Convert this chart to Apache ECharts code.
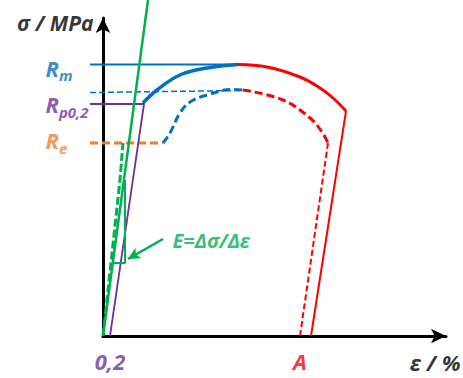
<!DOCTYPE html>
<html>
<head>
<meta charset="utf-8">
<script src="https://cdn.jsdelivr.net/npm/echarts@6/dist/echarts.min.js"></script>
<style>
  html, body { margin: 0; padding: 0; background: #fff; }
  #chart { width: 463px; height: 378px; }
</style>
</head>
<body>
<div id="chart"></div>
<script>
// schematic stress-strain diagram, x = strain (arbitrary %), y = stress (MPa, schematic)
const Rm = 543
const Rp02 = 464
const Re = 386
const epsP = 0.7 // plastic offset "0,2"
const epsA = 19.7 // elongation at fracture A

const elasticLine = [[0, 0], [4.5, 672]]
const elasticDashed = [[0, 0], [1.7, 312], [2.0, Re]]
const reLevel = [[-1.3, Re], [6.0, Re]]
const offsetLine = [[-1.3, Rp02], [4.1, Rp02], [epsP, 0]]
const rmLevel = [[-1.3, Rm], [13.5, Rm]]
const hardening = [[4.0, 466], [5.4, 492], [7.7, 522], [10.4, 536], [13.5, Rm]]
const upperDashLevel = [[-1.3, 487], [14.0, 491]]
const hardeningDashed = [[6.0, Re], [6.7, 406], [7.7, 446], [8.7, 468], [10.4, 482], [13.0, 493], [14.0, 492]]
const neckingArc = [[13.5, Rm], [16.4, 538], [19.7, 518], [21.7, 496], [23.0, 476], [24.3, 450]]
const fractureLine = [[24.3, 450], [20.8, 0]]
const neckingDashed = [[14.0, 492], [18.0, 472], [20.7, 436], [21.9, 408], [22.5, Re]]
const unloadDashed = [[22.5, Re], [epsA, 0]]
const slopeTriangle = [[0.95, 146], [2.2, 146], [2.2, 312]]
const slopeArrow = [[6.0, 194], [2.5, 154]]

const BLUE = '#0070C0'
const PURPLE = '#7030A0'
const ORANGE = '#ED7D31'
const GREEN = '#00B050'
const RED = '#FF0000'
const FONT = '"Open Sans", sans-serif'

function line(data, color, width, type, smooth) {
  return {
    type: 'line',
    data,
    smooth: smooth || false,
    symbol: 'none',
    clip: false,
    silent: true,
    lineStyle: { color, width, type: type || 'solid', cap: 'butt' }
  }
}

function bigText(color, size) {
  return { color, fontSize: size, fontWeight: 'bold', fontStyle: 'italic', fontFamily: FONT }
}

function rLabel(sub, color) {
  return {
    formatter: '{r|R}{s|' + sub + '}',
    rich: {
      r: Object.assign(bigText(color, 22), { lineHeight: 30 }),
      s: Object.assign(bigText(color, 15), { lineHeight: 14, verticalAlign: 'bottom' })
    }
  }
}

const labelItems = [
  { value: [-0.9, 626], label: { position: 'left', formatter: 'σ / MPa', ...bigText('#000', 21) } },
  { value: [35.8, -52], label: { position: 'left', formatter: 'ε / %', ...bigText('#000', 22) } },
  { value: [-5.8, Rm], label: { position: 'right', offset: [0, 3], ...rLabel('m', BLUE) } },
  { value: [-5.8, Rp02], label: { position: 'right', offset: [0, 0], ...rLabel('p0,2', PURPLE) } },
  { value: [-5.8, Re], label: { position: 'right', offset: [0, -3], ...rLabel('e', ORANGE) } },
  { value: [6.9, 192], label: { position: 'right', formatter: 'E=Δσ/Δε', ...bigText(GREEN, 20) } },
  { value: [epsP, -50], label: { position: 'inside', formatter: '0,2', ...bigText(PURPLE, 22) } },
  { value: [epsA, -50], label: { position: 'inside', formatter: 'A', ...bigText(RED, 22) } }
]

const hiddenAxis = {
  type: 'value',
  axisLine: { show: false },
  axisTick: { show: false },
  axisLabel: { show: false },
  splitLine: { show: false }
}
const arrowAxis = {
  type: 'value',
  min: 0,
  max: 1,
  axisLine: { show: true, onZero: false, symbol: ['none', 'arrow'], symbolSize: [11, 15], lineStyle: { color: '#000', width: 3 } },
  axisTick: { show: false },
  axisLabel: { show: false },
  splitLine: { show: false }
}

const chart = echarts.init(document.getElementById('chart'), null, { renderer: 'svg' })
chart.setOption({
  animation: false,
  backgroundColor: '#fff',
  // grid 0 carries the curves (starts a little left of the origin), grid 1 only draws the arrow axes
  grid: [
    { left: 88, right: 17, top: 18, bottom: 42 },
    { left: 103, right: 17, top: 18, bottom: 42 }
  ],
  xAxis: [
    Object.assign({}, hiddenAxis, { gridIndex: 0, min: -1.5, max: 34.3 }),
    Object.assign({}, arrowAxis, { gridIndex: 1 })
  ],
  yAxis: [
    Object.assign({}, hiddenAxis, { gridIndex: 0, min: 0, max: 636 }),
    Object.assign({}, arrowAxis, { gridIndex: 1 })
  ],
  series: [
    line(rmLevel, BLUE, 2),
    line(upperDashLevel, BLUE, 1.5, [6, 3]),
    line(hardeningDashed, BLUE, 3, [8, 4], 0.4),
    line(hardening, BLUE, 3.5, 'solid', 0.4),
    line(neckingArc, RED, 3, 'solid', 0.4),
    line(fractureLine, RED, 2),
    line(neckingDashed, RED, 3, [8, 4], 0.4),
    line(unloadDashed, RED, 2, [6, 3]),
    line(reLevel, ORANGE, 3, [8, 4]),
    line(offsetLine, PURPLE, 1.8),
    line(elasticDashed, GREEN, 3, [8, 3]),
    line(elasticLine, GREEN, 2.5),
    Object.assign(line(slopeTriangle, GREEN, 2), {
      markLine: {
        silent: true,
        symbol: ['none', 'arrow'],
        symbolSize: [9, 12],
        label: { show: false },
        lineStyle: { color: GREEN, width: 2.5, type: 'solid' },
        data: [[{ coord: slopeArrow[0] }, { coord: slopeArrow[1] }]]
      }
    }),
    {
      type: 'scatter',
      clip: false,
      silent: true,
      symbolSize: 1,
      itemStyle: { color: 'rgba(0,0,0,0)' },
      label: { show: true, distance: 0 },
      data: labelItems
    }
  ]
})
</script>
</body>
</html>
